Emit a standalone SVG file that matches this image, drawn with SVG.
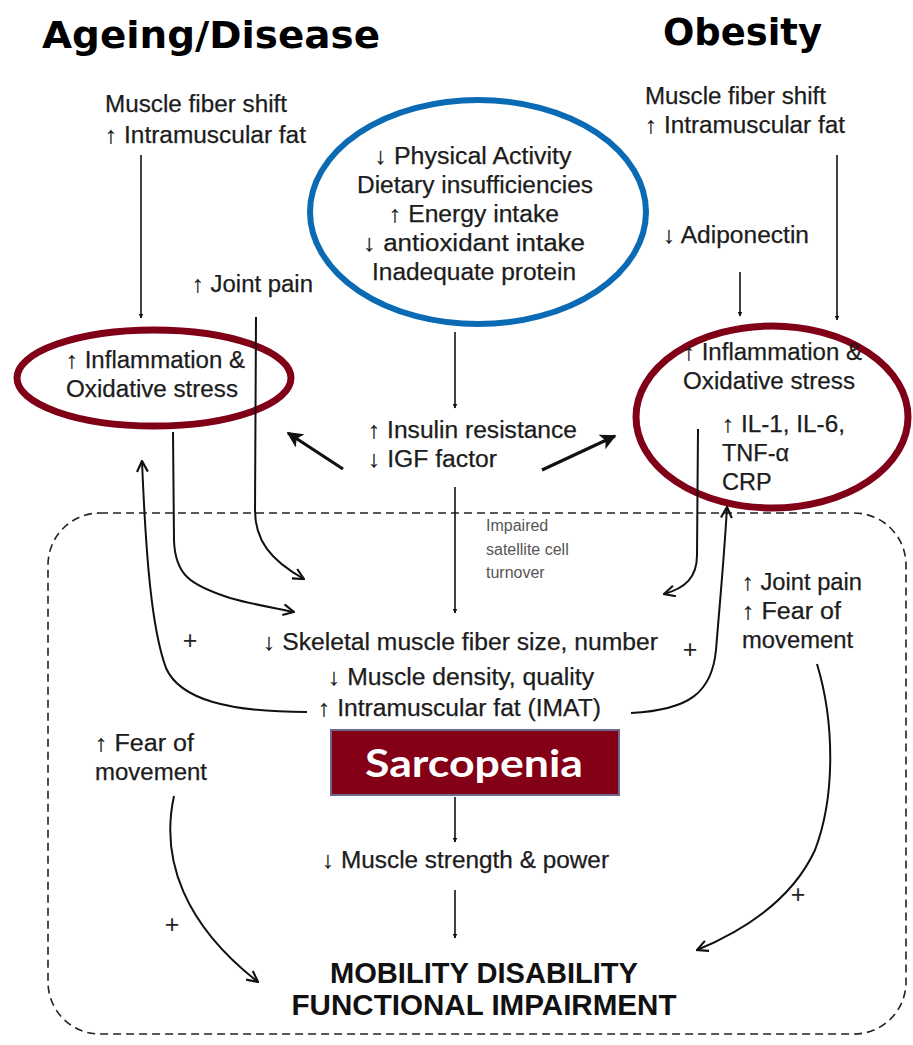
<svg xmlns="http://www.w3.org/2000/svg" width="913" height="1045" viewBox="0 0 913 1045">
<defs>
<marker id="tri" viewBox="0 0 10 10" refX="9" refY="5" markerWidth="5" markerHeight="5" orient="auto" markerUnits="userSpaceOnUse">
<path d="M0,0 L10,5 L0,10 z" fill="#111"/>
</marker>
<marker id="vee" viewBox="0 0 12 12" refX="11" refY="6" markerWidth="13" markerHeight="13" orient="auto" markerUnits="userSpaceOnUse">
<path d="M1,1 L11,6 L1,11" fill="none" stroke="#111" stroke-width="2"/>
</marker>
<marker id="big" viewBox="0 0 10 10" refX="9" refY="5" markerWidth="18" markerHeight="16" orient="auto" markerUnits="userSpaceOnUse">
<path d="M0,0 L10,5 L0,10 L2.5,5 z" fill="#111"/>
</marker>
</defs>
<style>
.t{font-family:"Liberation Sans","DejaVu Sans",Arial,sans-serif;font-size:23.5px;fill:#1c1c1c;stroke:#1c1c1c;stroke-width:0.25}
.s{font-family:"Liberation Sans","DejaVu Sans",Arial,sans-serif;font-size:16px;fill:#555}
.h{font-family:"DejaVu Sans",sans-serif;font-weight:bold;font-size:38px;fill:#000}
.b{font-family:"Liberation Sans","DejaVu Sans",Arial,sans-serif;font-weight:bold;font-size:29px;fill:#111}
.c{fill:none;stroke:#111;stroke-width:2}
.v{fill:none;stroke:#111;stroke-width:1.6}
.k{fill:none;stroke:#111;stroke-width:3.2}
.red{fill:none;stroke:#800018;stroke-width:7}
.plus{font-family:"Liberation Sans","DejaVu Sans",Arial,sans-serif;font-size:25px;fill:#222}
</style>
<rect width="913" height="1045" fill="#fff"/>

<g id="titles">
<text class="h" x="42" y="48" textLength="338" lengthAdjust="spacingAndGlyphs">Ageing/Disease</text>
<text class="h" x="663" y="45" textLength="159" lengthAdjust="spacingAndGlyphs">Obesity</text>
</g>

<g id="frame">
<rect x="48" y="513" width="858" height="521" rx="52" ry="52" fill="none" stroke="#222" stroke-width="1.6" stroke-dasharray="8,5"/>
</g>

<g id="left-top"><text class="t" x="105" y="112" textLength="182" lengthAdjust="spacingAndGlyphs">Muscle fiber shift</text><text class="t" x="105" y="143" textLength="201" lengthAdjust="spacingAndGlyphs">↑ Intramuscular fat</text></g>
<g id="right-top"><text class="t" x="645" y="104" textLength="181" lengthAdjust="spacingAndGlyphs">Muscle fiber shift</text><text class="t" x="645" y="133" textLength="200" lengthAdjust="spacingAndGlyphs">↑ Intramuscular fat</text></g>
<g id="joint-pain-left"><text class="t" x="192" y="292" textLength="121" lengthAdjust="spacingAndGlyphs">↑ Joint pain</text></g>
<g id="adiponectin"><text class="t" x="663" y="243" textLength="146" lengthAdjust="spacingAndGlyphs">↓ Adiponectin</text></g>

<g id="lifestyle">
<ellipse cx="478" cy="212" rx="168" ry="112" fill="none" stroke="#0a6ab4" stroke-width="6"/>
<text class="t" x="473" y="164" text-anchor="middle" textLength="197" lengthAdjust="spacingAndGlyphs">↓ Physical Activity</text>
<text class="t" x="475" y="193" text-anchor="middle" textLength="236" lengthAdjust="spacingAndGlyphs">Dietary insufficiencies</text>
<text class="t" x="474" y="222" text-anchor="middle" textLength="170" lengthAdjust="spacingAndGlyphs">↑ Energy intake</text>
<text class="t" x="474" y="251" text-anchor="middle" textLength="222" lengthAdjust="spacingAndGlyphs">↓ antioxidant intake</text>
<text class="t" x="474" y="280" text-anchor="middle" textLength="204" lengthAdjust="spacingAndGlyphs">Inadequate protein</text>
</g>

<g id="inflam-left">
<ellipse cx="154" cy="378" rx="137" ry="48" class="red"/>
<text class="t" x="66" y="368" textLength="179" lengthAdjust="spacingAndGlyphs">↑ Inflammation &amp;</text>
<text class="t" x="66" y="397" textLength="172" lengthAdjust="spacingAndGlyphs">Oxidative stress</text>
</g>

<g id="inflam-right">
<ellipse cx="772" cy="417" rx="136" ry="91" class="red"/>
<text class="t" x="683" y="360" textLength="179" lengthAdjust="spacingAndGlyphs">↑ Inflammation &amp;</text>
<text class="t" x="683" y="389" textLength="172" lengthAdjust="spacingAndGlyphs">Oxidative stress</text>
<text class="t" x="722" y="432" textLength="123" lengthAdjust="spacingAndGlyphs">↑ IL-1, IL-6,</text>
<text class="t" x="722" y="461">TNF-α</text>
<text class="t" x="722" y="490">CRP</text>
</g>

<g id="insulin">
<text class="t" x="368" y="438" textLength="209" lengthAdjust="spacingAndGlyphs">↑ Insulin resistance</text>
<text class="t" x="368" y="467" textLength="129" lengthAdjust="spacingAndGlyphs">↓ IGF factor</text>
</g>

<g id="satellite">
<text class="s" x="486" y="531">Impaired</text>
<text class="s" x="486" y="555">satellite cell</text>
<text class="s" x="486" y="578">turnover</text>
</g>

<g id="muscle">
<text class="t" x="263" y="650" textLength="395" lengthAdjust="spacingAndGlyphs">↓ Skeletal muscle fiber size, number</text>
<text class="t" x="328" y="685" textLength="266" lengthAdjust="spacingAndGlyphs">↓ Muscle density, quality</text>
<text class="t" x="318" y="716" textLength="283" lengthAdjust="spacingAndGlyphs">↑ Intramuscular fat (IMAT)</text>
</g>

<g id="sarcopenia">
<rect x="331" y="730" width="288" height="65" fill="#830017" stroke="#6b6a8c" stroke-width="2"/>
<text x="474" y="777" text-anchor="middle" font-family="Lato,'Open Sans',sans-serif" font-weight="bold" font-size="38" fill="#fff" textLength="218" lengthAdjust="spacingAndGlyphs">Sarcopenia</text>
</g>

<g id="strength"><text class="t" x="322" y="868" textLength="287" lengthAdjust="spacingAndGlyphs">↓ Muscle strength &amp; power</text></g>

<g id="fear-left"><text class="t" x="95" y="751" textLength="99" lengthAdjust="spacingAndGlyphs">↑ Fear of</text><text class="t" x="95" y="780" textLength="112" lengthAdjust="spacingAndGlyphs">movement</text></g>
<g id="fear-right">
<text class="t" x="742" y="590" textLength="120" lengthAdjust="spacingAndGlyphs">↑ Joint pain</text>
<text class="t" x="742" y="619" textLength="99" lengthAdjust="spacingAndGlyphs">↑ Fear of</text>
<text class="t" x="742" y="648" textLength="111" lengthAdjust="spacingAndGlyphs">movement</text>
</g>

<g id="mobility">
<text class="b" x="484" y="983" text-anchor="middle" textLength="308" lengthAdjust="spacingAndGlyphs">MOBILITY DISABILITY</text>
<text class="b" x="484" y="1015" text-anchor="middle" textLength="385" lengthAdjust="spacingAndGlyphs">FUNCTIONAL IMPAIRMENT</text>
</g>

<g id="signs">
<text class="plus" x="190" y="649" text-anchor="middle">+</text>
<text class="plus" x="690" y="658" text-anchor="middle">+</text>
<text class="plus" x="172" y="933" text-anchor="middle">+</text>
<text class="plus" x="798" y="903" text-anchor="middle">+</text>
</g>

<g id="connectors">
<line x1="141" y1="155" x2="141" y2="318" class="v" marker-end="url(#tri)"/>
<line x1="837" y1="155" x2="837" y2="320" class="v" marker-end="url(#tri)"/>
<line x1="740" y1="272" x2="740" y2="316" class="v" marker-end="url(#tri)"/>
<line x1="455" y1="332" x2="455" y2="408" class="v" marker-end="url(#tri)"/>
<line x1="455" y1="487" x2="455" y2="613" class="v" marker-end="url(#tri)"/>
<line x1="455" y1="797" x2="455" y2="842" class="v" marker-end="url(#tri)"/>
<line x1="455" y1="890" x2="455" y2="938" class="v" marker-end="url(#tri)"/>
<line x1="343" y1="469" x2="288" y2="433" class="k" marker-end="url(#big)"/>
<line x1="542" y1="470" x2="615" y2="436" class="k" marker-end="url(#big)"/>
<path d="M173 432 L174 540 C175 575 190 585 230 598 C255 605 275 608 294 612" class="c" marker-end="url(#vee)"/>
<path d="M256 317 L255 510 C255 540 270 560 304 579" class="c" marker-end="url(#vee)"/>
<path d="M307 712 C230 712 180 700 166 668 C152 630 146 560 142 461" class="c" marker-end="url(#vee)"/>
<path d="M698 429 L697 555 C697 578 685 588 664 594" class="c" marker-end="url(#vee)"/>
<path d="M631 713 C690 710 712 692 716 650 C720 600 724 560 727 507" class="c" marker-end="url(#vee)"/>
<path d="M817 664 C834 720 836 795 815 850 C792 900 745 930 697 950" class="c" marker-end="url(#vee)"/>
<path d="M174 796 C160 860 185 925 258 982" class="c" marker-end="url(#vee)"/>
</g>
</svg>
